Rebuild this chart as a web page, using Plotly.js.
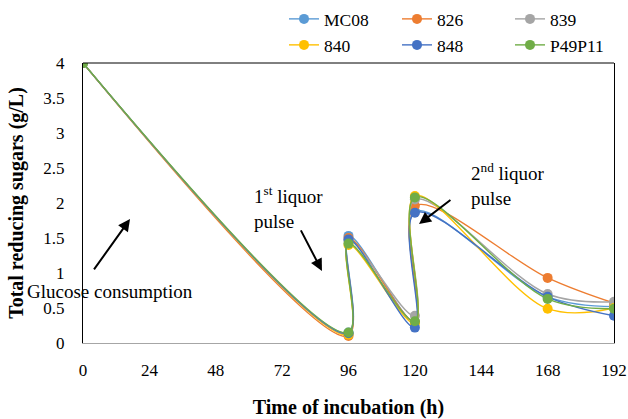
<!DOCTYPE html>
<html>
<head>
<meta charset="utf-8">
<script src="https://cdn.plot.ly/plotly-3.0.1.min.js"></script>
<style>html,body{margin:0;padding:0;background:#fff;}#chart{width:628px;height:419px;}</style>
</head>
<body>
<div id="chart"></div>
<script>
const hours = [0, 96, 96, 120, 120, 168, 192];
const seriesNames = ["MC08", "826", "839", "840", "848", "P49P11"];
const MC08   = [4, 0.15, 1.53, 0.30, 1.88, 0.66, 0.52];
const s826   = [4, 0.10, 1.50, 0.30, 1.96, 0.93, 0.57];
const s839   = [4, 0.13, 1.46, 0.39, 2.05, 0.70, 0.59];
const s840   = [4, 0.12, 1.40, 0.28, 2.10, 0.49, 0.50];
const s848   = [4, 0.14, 1.48, 0.22, 1.86, 0.66, 0.39];
const P49P11 = [4, 0.15, 1.42, 0.31, 2.08, 0.63, 0.49];
const xTicks = [0, 24, 48, 72, 96, 120, 144, 168, 192];
const yTicks = [0, 0.5, 1, 1.5, 2, 2.5, 3, 3.5, 4];
const yTickLabels = ["0", "0.5", "1", "1.5", "2", "2.5", "3", "3.5", "4"];

const values = [MC08, s826, s839, s840, s848, P49P11];
const colors = ["#5B9BD5", "#ED7D31", "#A5A5A5", "#FFC000", "#4472C4", "#70AD47"];
const legendIds = ["legend", "legend2", "legend3", "legend4", "legend5", "legend6"];
const legendLeft = [284, 397, 510];
const legendTop = [1, 27];

const traces = values.map((v, i) => ({
  x: hours, y: v, name: seriesNames[i], type: "scatter", mode: "lines+markers", legend: legendIds[i],
  line: {color: colors[i], width: 1.4, shape: "spline", smoothing: 1},
  marker: {color: colors[i], size: 10}
}));

const serif = "Liberation Serif, Times New Roman, serif";
const layout = {
  width: 628, height: 419,
  margin: {l: 83, r: 14, t: 59, b: 76},
  paper_bgcolor: "#fff", plot_bgcolor: "#fff",
  font: {family: serif, size: 17, color: "#000"},
  showlegend: true,
  xaxis: {range: [0, 192], tickvals: xTicks, ticktext: xTicks.map(String), showgrid: false, zeroline: false,
          showline: true, linecolor: "#A6A6A6", linewidth: 1, ticks: "", ticklabelstandoff: 12,
          tickfont: {family: serif, size: 17, color: "#000"},
          title: {text: "<b>Time of incubation (h)</b>", font: {family: serif, size: 20, color: "#000"}, standoff: 24}},
  yaxis: {range: [0, 4], tickvals: yTicks, ticktext: yTickLabels, showgrid: false, zeroline: false,
          showline: true, linecolor: "#000", linewidth: 1, mirror: true, ticks: "", ticklabelstandoff: 14,
          tickfont: {family: serif, size: 17, color: "#000"},
          title: {text: "<b>Total reducing sugars (g/L)</b>", font: {family: serif, size: 20, color: "#000"}, standoff: 14}},
  shapes: [{type: "line", xref: "paper", yref: "paper", x0: 0, x1: 1, y0: 1, y1: 1, line: {color: "#000", width: 1}}],
  annotations: [
    {text: "Glucose consumption", xref: "paper", yref: "paper", x: (25 - 83) / 531, y: (343 - 291) / 284, xanchor: "left", yanchor: "middle",
     showarrow: false, font: {family: serif, size: 19, color: "#000"}},
    {text: "", x: 17, y: 1.77, axref: "x", ayref: "y", ax: 3.6, ay: 1.03, showarrow: true, arrowhead: 2, arrowsize: 1.2, arrowwidth: 2, arrowcolor: "#000"},
    {text: "1<sup>st</sup> liquor<br>pulse", x: 61, y: 1.93, xanchor: "left", yanchor: "middle", align: "left",
     showarrow: false, font: {family: serif, size: 19, color: "#000"}},
    {text: "", x: 86.4, y: 1.03, axref: "x", ayref: "y", ax: 78.5, ay: 1.63, showarrow: true, arrowhead: 2, arrowsize: 1.2, arrowwidth: 2, arrowcolor: "#000"},
    {text: "2<sup>nd</sup> liquor<br>pulse", x: 139.6, y: 2.27, xanchor: "left", yanchor: "middle", align: "left",
     showarrow: false, font: {family: serif, size: 19, color: "#000"}},
    {text: "", x: 121.5, y: 1.70, axref: "x", ayref: "y", ax: 133.4, ay: 2.06, showarrow: true, arrowhead: 2, arrowsize: 1.2, arrowwidth: 2, arrowcolor: "#000"}
  ]
};
legendIds.forEach((id, i) => {
  layout[id] = {orientation: "h", xref: "container", yref: "container", xanchor: "left", yanchor: "top",
                x: legendLeft[i % 3] / 628, y: 1 - legendTop[Math.floor(i / 3)] / 419,
                font: {family: serif, size: 17.5, color: "#000"}, bgcolor: "rgba(0,0,0,0)"};
});

Plotly.newPlot("chart", traces, layout, {displayModeBar: false, staticPlot: true});
</script>
</body>
</html>
